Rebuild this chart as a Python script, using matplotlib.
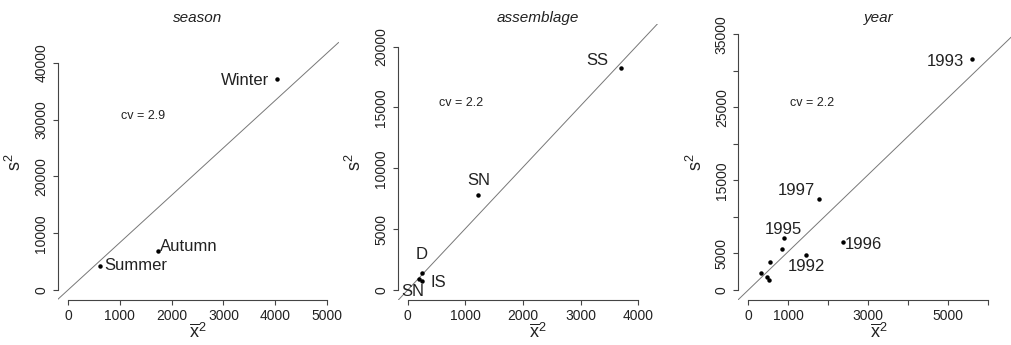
import matplotlib
matplotlib.use("Agg")
import matplotlib.pyplot as plt

plt.rcParams["font.family"] = ["Liberation Sans", "DejaVu Sans"]
plt.rcParams["mathtext.fontset"] = "custom"
plt.rcParams["mathtext.rm"] = "Liberation Sans"
plt.rcParams["mathtext.it"] = "Liberation Sans"

# ---- data ----
season_x = [4040, 1730, 625]
season_y = [37100, 6900, 4230]
season_lab = ["Winter", "Autumn", "Summer"]
season_slope = 8.35
season_cv = "cv = 2.9"

assem_x = [3700, 1225, 243, 253, 200]
assem_y = [18270, 7810, 1425, 740, 880]
assem_lab = ["SS", "SN", "D", "IS", "SN"]
assem_slope = 5.05
assem_cv = "cv = 2.2"

year_x = [5600, 1780, 890, 840, 1450, 2370, 545, 320, 460, 520]
year_y = [31580, 12420, 7160, 5570, 4790, 6610, 3790, 2370, 1740, 1370]
year_lab = ["1993", "1997", "1995", "", "1992", "1996", "", "", "", ""]
year_slope = 5.25
year_cv = "cv = 2.2"

TXT = "#222222"
AX = "#444444"

fig = plt.figure(figsize=(10.11, 3.45), dpi=100)


def px_axes(left):
    # plot region in pixel coords of the 1011x345 canvas
    return fig.add_axes([left / 1011, 45 / 345, 281 / 1011, 276 / 345])


def style(ax, xt, xtl, yt, ytl, xlim, ylim):
    ax.set_xlim(*xlim)
    ax.set_ylim(*ylim)
    for s in ("top", "right"):
        ax.spines[s].set_visible(False)
    for s in ("left", "bottom"):
        ax.spines[s].set_color(AX)
        ax.spines[s].set_linewidth(0.8)
    ax.spines["bottom"].set_bounds(xt[0], xt[-1])
    ax.spines["left"].set_bounds(yt[0], yt[-1])
    ax.set_xticks(xt)
    ax.set_xticklabels(xtl)
    ax.set_yticks(yt)
    ax.set_yticklabels(ytl, rotation=90, va="center")
    ax.tick_params(direction="out", length=3.6, width=0.8, color=AX,
                   labelsize=10, labelcolor=TXT, pad=3)
    ax.set_xlabel(r"$\overline{\mathrm{x}}^2$", fontsize=13, color=TXT)
    ax.xaxis.set_label_coords(0.5, -0.12)
    ax.xaxis.label.set_va("center")
    ax.set_ylabel(r"$\mathrm{s}^2$", fontsize=13, color=TXT)
    ax.yaxis.set_label_coords(-0.15, 0.5)
    ax.yaxis.label.set_va("center")


def panel(ax, title, xs, ys, labs, offs, slope, cv, cvpos):
    ax.axline((0, 0), slope=slope, color="#777777", lw=0.7)
    ax.plot(xs, ys, "o", color="black", ms=2.2, ls="none")
    for x, y, lab, (dx, dy, ha) in zip(xs, ys, labs, offs):
        if lab:
            ax.annotate(lab, (x, y), xytext=(dx, dy), textcoords="offset pixels",
                        ha=ha, va="center", fontsize=12, color=TXT)
    ax.text(cvpos[0], cvpos[1], cv, ha="center", va="center", fontsize=9, color=TXT)
    ax.text(0.5, 1.022, title, transform=ax.transAxes, ha="center", va="center",
            fontsize=11, style="italic", color=TXT)


# season
ax1 = px_axes(57.5)
panel(ax1, "season", season_x, season_y, season_lab,
      [(-8, -1, "right"), (2, 4, "left"), (4, 0, "left")],
      season_slope, season_cv, (1450, 30660))
style(ax1, [0, 1000, 2000, 3000, 4000, 5000], ["0", "1000", "2000", "3000", "4000", "5000"],
      [0, 10000, 20000, 30000, 40000], ["0", "10000", "20000", "30000", "40000"],
      (-203, 5222), (-1762, 46872))

# assemblage
ax2 = px_axes(397.5)
panel(ax2, "assemblage", assem_x, assem_y, assem_lab,
      [(-13, 7, "right"), (0, 14, "center"), (0, 18, "center"), (8, -2, "left"), (-6, -12, "center")],
      assem_slope, assem_cv, (925, 15345))
style(ax2, [0, 1000, 2000, 3000, 4000], ["0", "1000", "2000", "3000", "4000"],
      [0, 5000, 10000, 15000, 20000], ["0", "5000", "10000", "15000", "20000"],
      (-177, 4696), (-822, 21862))

# year
ax3 = px_axes(738)
panel(ax3, "year", year_x, year_y, year_lab,
      [(-8, -2, "right"), (-4, 9, "right"), (0, 8, "center"), (0, 0, "left"),
       (0, -11, "center"), (2, -3, "left"), (0, 0, "left"), (0, 0, "left"),
       (0, 0, "left"), (0, 0, "left")],
      year_slope, year_cv, (1605, 25560))
style(ax3, [0, 1000, 2000, 3000, 4000, 5000, 6000], ["0", "1000", "", "3000", "", "5000", ""],
      [0, 5000, 10000, 15000, 20000, 25000, 30000, 35000],
      ["0", "5000", "", "15000", "", "25000", "", "35000"],
      (-258, 6790), (-1369, 36413))

fig.savefig("out.png", dpi=100)
